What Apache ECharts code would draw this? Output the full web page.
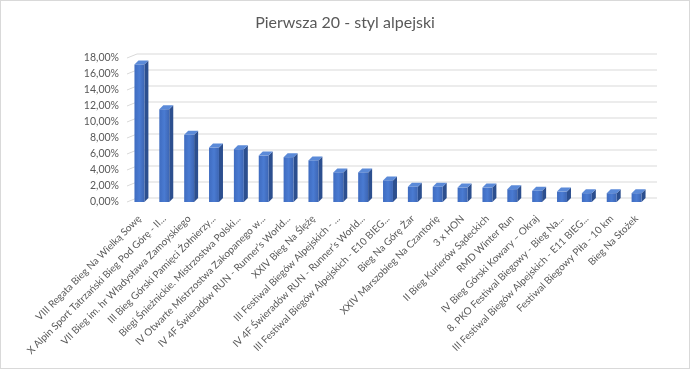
<!DOCTYPE html>
<html>
<head>
<meta charset="utf-8">
<script src="https://cdn.jsdelivr.net/npm/echarts@6/dist/echarts.min.js"></script>
<style>
html,body{margin:0;padding:0;background:#fff;}
#c{width:688px;height:367px;border:1px solid #d9d9d9;}
</style>
</head>
<body>
<div id="c"></div>
<script>
const title = 'Pierwsza 20 - styl alpejski';
const categories = [
  'VIII Regata Bieg Na Wielką Sowę',
  'X Alpin Sport Tatrzański Bieg Pod Górę - II...',
  'VII Bieg im. hr Władysława Zamoyskiego',
  'III Bieg Górski Pamięci Żołnierzy...',
  'Biegi Śnieżnickie. Mistrzostwa Polski...',
  'IV Otwarte Mistrzostwa Zakopanego w...',
  'IV 4F Świeradów RUN - Runner\u2019s World...',
  'XXIV Bieg Na Ślężę',
  'III Festiwal Biegów Alpejskich - ...',
  'IV 4F Świeradów RUN - Runner\u2019s World...',
  'III Festiwal Biegów Alpejskich - E10 BIEG...',
  'Bieg Na Górę Żar',
  'XXIV Marszobieg Na Czantorię',
  '3 x HON',
  'II Bieg Kurierów Sądeckich',
  'RMD Winter Run',
  'IV Bieg Górski Kowary – Okraj',
  '8. PKO Festiwal Biegowy - Bieg Na...',
  'III Festiwal Biegów Alpejskich - E11 BIEG...',
  'Festiwal Biegowy Piła - 10 km',
  'Bieg Na Stożek'
];
const values = [17.2, 11.6, 8.4, 6.8, 6.6, 5.8, 5.6, 5.2, 3.7, 3.7, 2.7, 1.9, 1.9, 1.8, 1.8, 1.6, 1.4, 1.3, 1.1, 1.1, 1.1];
const yTicks = [0, 2, 4, 6, 8, 10, 12, 14, 16, 18];

const chart = echarts.init(document.getElementById('c'), null, {renderer: 'canvas'});
const D = 4; // 3D depth in px

function barRender(params, api) {
  const idx = api.value(0);
  const top = api.coord([idx, api.value(1)]);
  const base = api.coord([idx, 0]);
  const band = api.size([1, 0])[0];
  const w = band * 0.4;
  const x0 = top[0] - w / 2, x1 = top[0] + w / 2;
  const yt = top[1], yb = base[1];
  return {
    type: 'group',
    children: [
      {type: 'polygon', shape: {points: [[x1, yt], [x1 + D, yt - D], [x1 + D, yb - D], [x1, yb]]},
       style: {fill: '#2c4f8f'}},
      {type: 'polygon', shape: {points: [[x0, yt], [x0 + D, yt - D], [x1 + D, yt - D], [x1, yt]]},
       style: {fill: '#5b8ad8'}},
      {type: 'rect', shape: {x: x0, y: yt, width: w, height: yb - yt},
       style: {fill: new echarts.graphic.LinearGradient(0, 0, 1, 0, [
         {offset: 0, color: '#3f6cc0'}, {offset: 0.5, color: '#4a7bd2'}, {offset: 1, color: '#3d66b4'}])}}
    ]
  };
}

function gridRender(params, api) {
  const cs = params.coordSys;
  const p = api.coord([0, api.value(1)]);
  const y = p[1];
  const xl = cs.x;
  return {
    type: 'polyline',
    shape: {points: [[xl, y], [xl + 10, y - D], [cs.x + cs.width + 8, y - D]]},
    style: {stroke: '#d9d9d9', lineWidth: 1, fill: null},
    silent: true
  };
}

chart.setOption({
  animation: false,
  title: {
    text: title, left: 'center', top: 9,
    textStyle: {fontFamily: 'Lato', fontSize: 16, fontWeight: 'normal', color: '#595959'}
  },
  grid: {left: 126, right: 40, top: 57, bottom: 166, containLabel: false},
  xAxis: {
    type: 'category',
    data: categories,
    axisLine: {show: false},
    axisTick: {show: false},
    axisLabel: {
      interval: 0, rotate: 45, fontFamily: 'Lato', fontSize: 10, color: '#595959', margin: 15
    }
  },
  yAxis: {
    type: 'value', min: 0, max: 18, interval: 2,
    axisLine: {show: false}, axisTick: {show: false},
    splitLine: {show: false},
    axisLabel: {
      fontFamily: 'Lato', fontSize: 10.5, color: '#595959', margin: 8,
      formatter: v => v.toFixed(2).replace('.', ',') + '%'
    }
  },
  series: [
    {
      type: 'custom', renderItem: gridRender, silent: true, z: 1,
      data: yTicks.map(t => [0, t])
    },
    {
      type: 'custom', renderItem: barRender, z: 2,
      data: values.map((v, i) => [i, v])
    }
  ]
});
</script>
</body>
</html>
